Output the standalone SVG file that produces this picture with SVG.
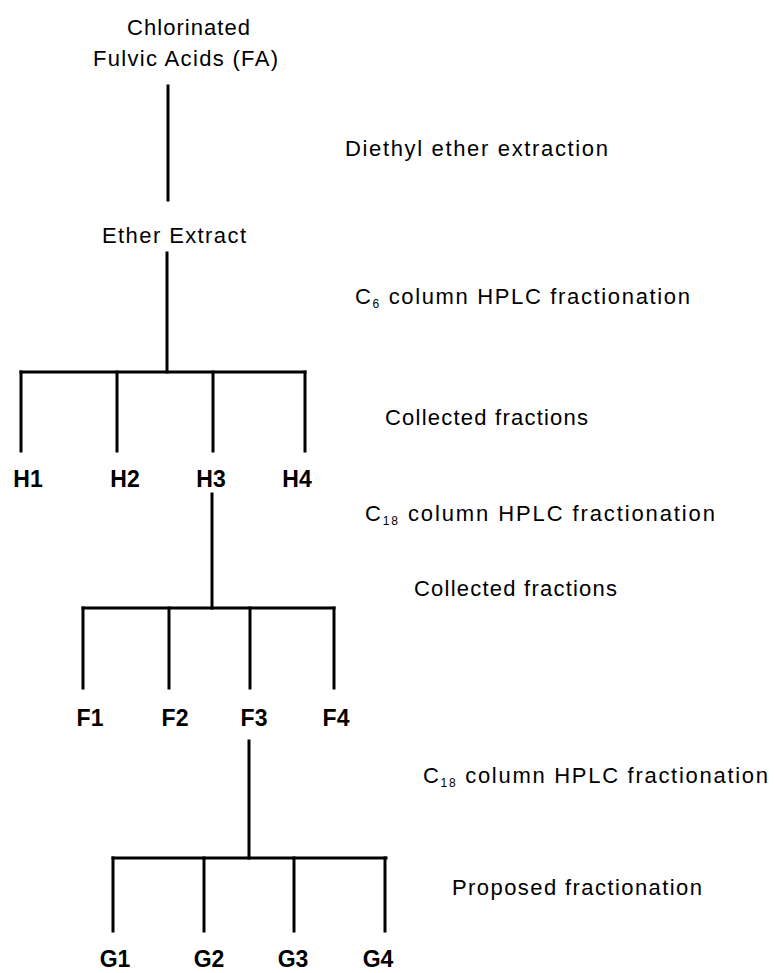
<svg xmlns="http://www.w3.org/2000/svg" width="775" height="973" viewBox="0 0 775 973">
<style>
text{font-family:"Liberation Sans",Arial,sans-serif;fill:#000;font-size:22px}
.lbl{font-weight:bold;font-size:23px;text-anchor:middle}
.step{font-size:22px}
.sub{font-size:12px}
#connectors line{stroke:#000;stroke-width:3;stroke-linecap:square}
</style>
<rect width="775" height="973" fill="#fff"/>
<g id="connectors">
<line x1="168" y1="86" x2="168" y2="200"/>
<line x1="167" y1="253" x2="167" y2="372"/>
<line x1="21" y1="372" x2="305" y2="372"/>
<line x1="21" y1="372" x2="21" y2="451"/>
<line x1="117" y1="372" x2="117" y2="451"/>
<line x1="213" y1="372" x2="213" y2="451"/>
<line x1="305" y1="372" x2="305" y2="451"/>
<line x1="212" y1="494" x2="212" y2="608"/>
<line x1="83" y1="608" x2="334" y2="608"/>
<line x1="83" y1="608" x2="83" y2="688"/>
<line x1="169" y1="608" x2="169" y2="688"/>
<line x1="250" y1="608" x2="250" y2="688"/>
<line x1="334" y1="608" x2="334" y2="688"/>
<line x1="249" y1="741" x2="249" y2="858"/>
<line x1="113" y1="858" x2="386" y2="858"/>
<line x1="113" y1="858" x2="113" y2="931"/>
<line x1="204" y1="858" x2="204" y2="931"/>
<line x1="294" y1="858" x2="294" y2="931"/>
<line x1="385" y1="858" x2="385" y2="931"/>
</g>
<g id="node-FA">
<text x="127" y="35" textLength="123" lengthAdjust="spacing">Chlorinated</text>
<text x="93" y="66" textLength="185" lengthAdjust="spacing">Fulvic Acids (FA)</text>
</g>
<g id="node-ether">
<text x="102" y="243" textLength="144" lengthAdjust="spacing">Ether Extract</text>
</g>
<g id="node-H1"><text class="lbl" x="28" y="487">H1</text></g>
<g id="node-H2"><text class="lbl" x="125" y="487">H2</text></g>
<g id="node-H3"><text class="lbl" x="211" y="487">H3</text></g>
<g id="node-H4"><text class="lbl" x="297" y="487">H4</text></g>
<g id="node-F1"><text class="lbl" x="90" y="726">F1</text></g>
<g id="node-F2"><text class="lbl" x="175" y="726">F2</text></g>
<g id="node-F3"><text class="lbl" x="254" y="726">F3</text></g>
<g id="node-F4"><text class="lbl" x="336" y="726">F4</text></g>
<g id="node-G1"><text class="lbl" x="115" y="967">G1</text></g>
<g id="node-G2"><text class="lbl" x="209" y="967">G2</text></g>
<g id="node-G3"><text class="lbl" x="293" y="967">G3</text></g>
<g id="node-G4"><text class="lbl" x="378" y="967">G4</text></g>
<g id="step-labels">
<text class="step" x="345" y="156" textLength="263" lengthAdjust="spacing">Diethyl ether extraction</text>
<text class="step" x="355" y="304" textLength="335" lengthAdjust="spacing">C<tspan class="sub" dy="4">6</tspan><tspan dy="-4"> column HPLC fractionation</tspan></text>
<text class="step" x="385" y="425" textLength="203" lengthAdjust="spacing">Collected fractions</text>
<text class="step" x="365" y="521" textLength="350" lengthAdjust="spacing">C<tspan class="sub" dy="4">18</tspan><tspan dy="-4"> column HPLC fractionation</tspan></text>
<text class="step" x="414" y="596" textLength="203" lengthAdjust="spacing">Collected fractions</text>
<text class="step" x="423" y="783" textLength="345" lengthAdjust="spacing">C<tspan class="sub" dy="4">18</tspan><tspan dy="-4"> column HPLC fractionation</tspan></text>
<text class="step" x="452" y="895" textLength="250" lengthAdjust="spacing">Proposed fractionation</text>
</g>
</svg>
